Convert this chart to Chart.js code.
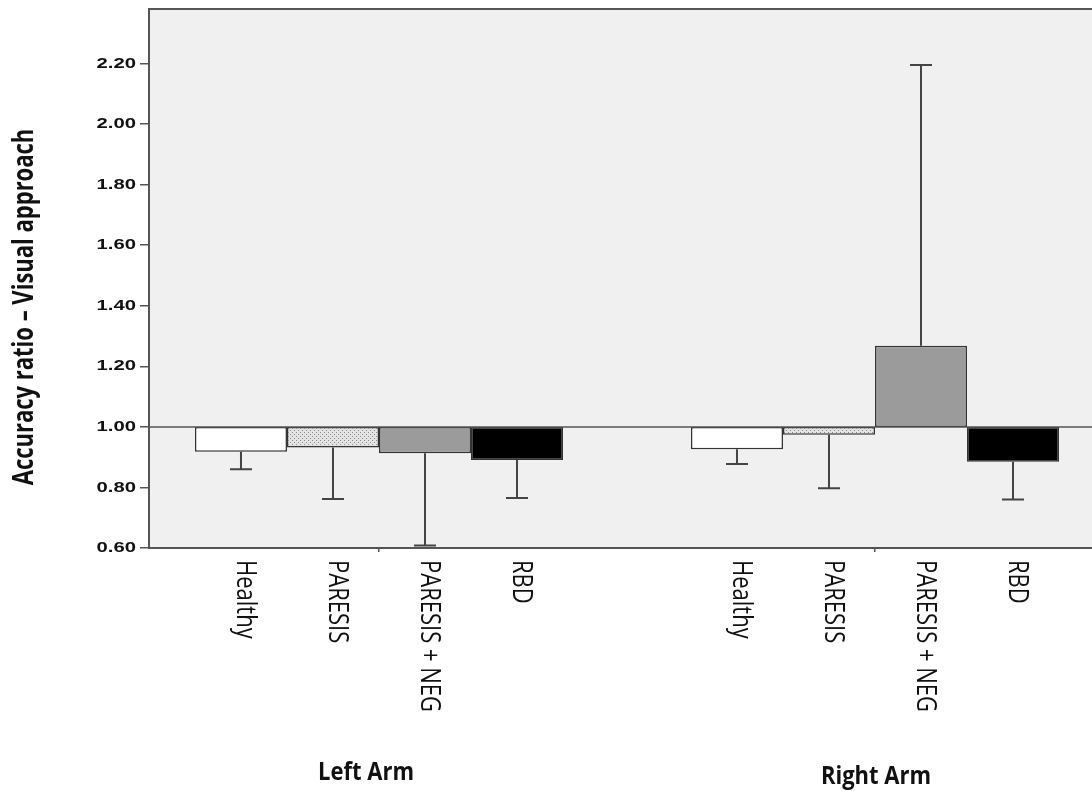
<!DOCTYPE html>
<html>
<head>
<meta charset="utf-8">
<script src="https://cdn.jsdelivr.net/npm/chart.js@4/dist/chart.umd.min.js"></script>
<style>
  html, body { margin: 0; padding: 0; background: #fff; overflow: hidden; }
  #wrap { width: 1092px; height: 791px; }
</style>
</head>
<body>
<div id="wrap"><canvas id="chart" width="1092" height="791"></canvas></div>
<script>
// groups on the x axis (0 = left arm, 1 = right arm)
const groups = ['Left Arm', 'Right Arm'];
const categories = ['Healthy', 'PARESIS', 'PARESIS + NEG', 'RBD'];

// mean accuracy ratio, [left arm, right arm]
const healthyMean = [0.918, 0.926];
const paresisMean = [0.932, 0.974];
const paresisNegMean = [0.913, 1.268];
const rbdMean = [0.891, 0.885];

// where each error bar ends
const healthyErr = [0.860, 0.877];
const paresisErr = [0.762, 0.797];
const paresisNegErr = [0.608, 2.195];
const rbdErr = [0.765, 0.760];

const yTicks = [0.6, 0.8, 1.0, 1.2, 1.4, 1.6, 1.8, 2.0, 2.2];
const baseline = 1.0;

const means = [healthyMean, paresisMean, paresisNegMean, rbdMean];
const errors = [healthyErr, paresisErr, paresisNegErr, rbdErr];

// dotted fill for the PARESIS bars
function dotPattern() {
    const c = document.createElement('canvas');
    c.width = 4;
    c.height = 4;
    const g = c.getContext('2d');
    g.fillStyle = '#e4e4e4';
    g.fillRect(0, 0, 4, 4);
    g.fillStyle = '#8a8a8a';
    g.fillRect(0, 0, 1, 1);
    g.fillRect(2, 2, 1, 1);
    return g.createPattern(c, 'repeat');
}

const fills = ['#ffffff', dotPattern(), '#9b9b9b', '#000000'];

const datasets = categories.map((name, i) => ({
    label: name,
    data: groups.map((g, j) => ({ x: j, y: [means[i][j], baseline] })),
    backgroundColor: fills[i],
    borderColor: '#333333',
    borderWidth: 1.5,
    borderSkipped: false,
    barPercentage: 1.0,
    categoryPercentage: 0.742,
}));

function drawText(ctx, text, x, y, angle, sx, sy, font, align) {
    ctx.save();
    ctx.translate(x, y);
    ctx.rotate(angle);
    ctx.scale(sx, sy);
    ctx.font = font;
    ctx.textAlign = align;
    ctx.textBaseline = 'middle';
    ctx.fillStyle = '#111111';
    ctx.fillText(text, 0, 0);
    ctx.restore();
}

const decorations = {
    id: 'decorations',
    beforeDraw(chart) {
        const { ctx, chartArea } = chart;
        ctx.save();
        ctx.fillStyle = '#f0f0f0';
        ctx.fillRect(chartArea.left, chartArea.top, chartArea.right - chartArea.left, chartArea.bottom - chartArea.top);
        ctx.restore();
    },
    afterDatasetsDraw(chart) {
        const { ctx, chartArea, scales } = chart;
        const y = scales.y;
        const x = scales.x;

        // error bars
        ctx.save();
        ctx.strokeStyle = '#444444';
        ctx.lineWidth = 2;
        for (let i = 0; i < categories.length; i++) {
            const meta = chart.getDatasetMeta(i);
            for (let j = 0; j < groups.length; j++) {
                const bar = meta.data[j];
                const from = y.getPixelForValue(means[i][j]);
                const to = y.getPixelForValue(errors[i][j]);
                ctx.beginPath();
                ctx.moveTo(bar.x, from);
                ctx.lineTo(bar.x, to);
                ctx.moveTo(bar.x - 11, to);
                ctx.lineTo(bar.x + 11, to);
                ctx.stroke();
            }
        }
        ctx.restore();

        // reference line at 1.00 and top frame
        ctx.save();
        ctx.strokeStyle = '#555555';
        ctx.lineWidth = 1.5;
        const by = y.getPixelForValue(baseline);
        ctx.beginPath();
        ctx.moveTo(chartArea.left, by);
        ctx.lineTo(chartArea.right, by);
        ctx.stroke();
        ctx.lineWidth = 2;
        ctx.beginPath();
        ctx.moveTo(chartArea.left, chartArea.top);
        ctx.lineTo(chartArea.right, chartArea.top);
        ctx.stroke();
        ctx.restore();

        // y tick labels
        for (const v of yTicks) {
            drawText(ctx, v.toFixed(2), 136, y.getPixelForValue(v), 0, 1.35, 1,
                'bold 15px "Liberation Sans", Arial, sans-serif', 'right');
        }

        // category labels, rotated clockwise
        for (let i = 0; i < categories.length; i++) {
            const meta = chart.getDatasetMeta(i);
            for (let j = 0; j < groups.length; j++) {
                drawText(ctx, categories[i], meta.data[j].x + 4, chartArea.bottom + 12, Math.PI / 2, 1, 1.2,
                    '22px "Open Sans", sans-serif', 'left');
            }
        }

        // group labels
        drawText(ctx, groups[0], x.getPixelForValue(0) - 13, 773, 0, 1, 1.15,
            'bold 22px "Open Sans", sans-serif', 'center');
        drawText(ctx, groups[1], x.getPixelForValue(1) + 1, 777, 0, 1, 1.15,
            'bold 22px "Open Sans", sans-serif', 'center');

        // y axis title
        drawText(ctx, 'Accuracy ratio \u2013 Visual approach', 25, 307, -Math.PI / 2, 1, 1.3,
            'bold 22px "Open Sans", sans-serif', 'center');
    }
};

new Chart(document.getElementById('chart').getContext('2d'), {
    type: 'bar',
    data: { datasets: datasets },
    plugins: [decorations],
    options: {
        responsive: false,
        animation: false,
        devicePixelRatio: 1,
        layout: { padding: { top: 9, right: 0, left: 0, bottom: 0 } },
        plugins: {
            legend: { display: false },
            tooltip: { enabled: false },
        },
        scales: {
            x: {
                type: 'linear',
                offset: false,
                min: -0.4637,
                max: 1.4375,
                afterBuildTicks: (scale) => { scale.ticks = [{ value: 0 }, { value: 1 }]; },
                afterFit: (scale) => { scale.height = 243; },
                ticks: { display: false },
                grid: { offset: false, drawOnChartArea: false, tickLength: 4, color: '#555555', lineWidth: 1.5 },
                border: { color: '#555555', width: 2 },
            },
            y: {
                min: 0.6,
                max: 2.38,
                afterBuildTicks: (scale) => { scale.ticks = yTicks.map(v => ({ value: v })); },
                afterFit: (scale) => { scale.width = 149; },
                ticks: { display: false },
                grid: { drawOnChartArea: false, tickLength: 9, color: '#555555', lineWidth: 1.5 },
                border: { color: '#555555', width: 2 },
            },
        },
    },
});
</script>
</body>
</html>
